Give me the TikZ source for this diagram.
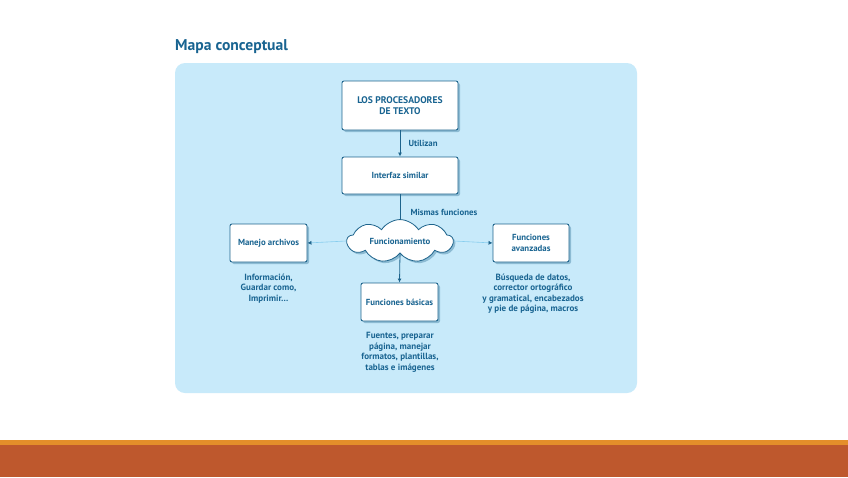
\documentclass[tikz,border=0pt]{standalone}
\usepackage{fontspec}
\setmainfont{PT Sans}
\usepackage{tikz}
\usetikzlibrary{positioning,arrows.meta,shapes.symbols,shadows}
\definecolor{cmteal}{RGB}{30,100,140}
\definecolor{cmtext}{RGB}{25,100,145}
\definecolor{cmpanel}{RGB}{200,234,250}
\definecolor{cmlight}{RGB}{135,205,238}
\definecolor{cmorange}{RGB}{228,142,42}
\definecolor{cmrust}{RGB}{190,88,45}
\tikzset{
  cmarr/.style={-{Latex[length=4pt,width=4pt]},line width=0.8pt,draw=cmteal},
  cmline/.style={line width=0.8pt,draw=cmteal},
  cmthin/.style={-{Latex[length=4pt,width=4pt,color=cmteal]},line width=0.6pt,draw=cmlight},
  cmbox/.style={draw=cmteal,line width=0.9pt,fill=white,rounded corners=2pt,align=center,
                inner sep=2pt,font=\bfseries\fontsize{8.8}{10.5}\selectfont,text=cmtext,
                drop shadow={shadow xshift=2pt,shadow yshift=-2pt,fill=cmteal,opacity=0.35}},
  cmcloud/.style={cloud,cloud puffs=9,cloud puff arc=115,aspect=3,draw=cmteal,line width=0.8pt,
                  fill=white,font=\bfseries\fontsize{8.8}{10.5}\selectfont,text=cmtext,inner sep=0pt,
                  drop shadow={shadow xshift=2pt,shadow yshift=-2pt,fill=cmteal,opacity=0.35}},
  cmnote/.style={align=center,font=\bfseries\fontsize{9}{10.5}\selectfont,text=cmtext},
  cmlabel/.style={anchor=west,font=\bfseries\fontsize{8.8}{10}\selectfont,text=cmtext}
}
\begin{document}
\begin{tikzpicture}[x=1pt,y=-1pt]
\useasboundingbox (0,0) rectangle (848,477);
% page frame
\fill[white] (0,0) rectangle (848,477);
\fill[cmorange] (0,440) rectangle (848,445);
\fill[cmrust] (0,445) rectangle (848,477);
\node[anchor=base west,inner sep=0pt,font=\bfseries\fontsize{15.6}{18}\selectfont,text=cmtext] (title) at (175,50) {Mapa conceptual};
\fill[cmpanel,rounded corners=10pt] (175,63) rectangle (637,393);

% concept map
\node[cmbox, minimum width=116pt, minimum height=49pt, font=\bfseries\fontsize{9.6}{10.8}\selectfont] (proc) at (400,105.5)
   {LOS PROCESADORES\\DE TEXTO};
\node[cmbox, minimum width=116pt, minimum height=37pt] (iface) at (400,175.5)
   {Interfaz similar};
\node[cmcloud, minimum width=106pt, minimum height=36pt] (func) at (400,241)
   {Funcionamiento};
\node[cmbox, minimum width=77pt, minimum height=38pt] (arch) at (268.5,243)
   {Manejo archivos};
\node[cmbox, minimum width=76pt, minimum height=38pt] (avz) at (531,243)
   {Funciones\\avanzadas};
\node[cmbox, minimum width=77pt, minimum height=38pt] (bas) at (399.5,302)
   {Funciones básicas};

\node[cmnote, anchor=north] (archnote) at (268.5,270)
   {Información,\\Guardar como,\\Imprimir…};
\node[cmnote, anchor=north] (basnote) at (400,329)
   {Fuentes, preparar\\página, manejar\\formatos, plantillas,\\tablas e imágenes};
\node[cmnote, anchor=north] (avznote) at (533,270)
   {Búsqueda de datos,\\corrector ortográfico\\y gramatical, encabezados\\y pie de página, macros};

\draw[cmarr] (proc.south) -- (iface.north);
\draw[cmline] (iface.south) -- (func.north);
\draw[cmarr] (func.south) -- (bas.north);
\draw[cmthin] (func.west) -- (arch.east);
\draw[cmthin] (func.east) -- (avz.west);

\node[cmlabel] (utl) at (405,143) {Utilizan};
\node[cmlabel] (mis) at (407,212) {Mismas funciones};
\end{tikzpicture}
\end{document}
